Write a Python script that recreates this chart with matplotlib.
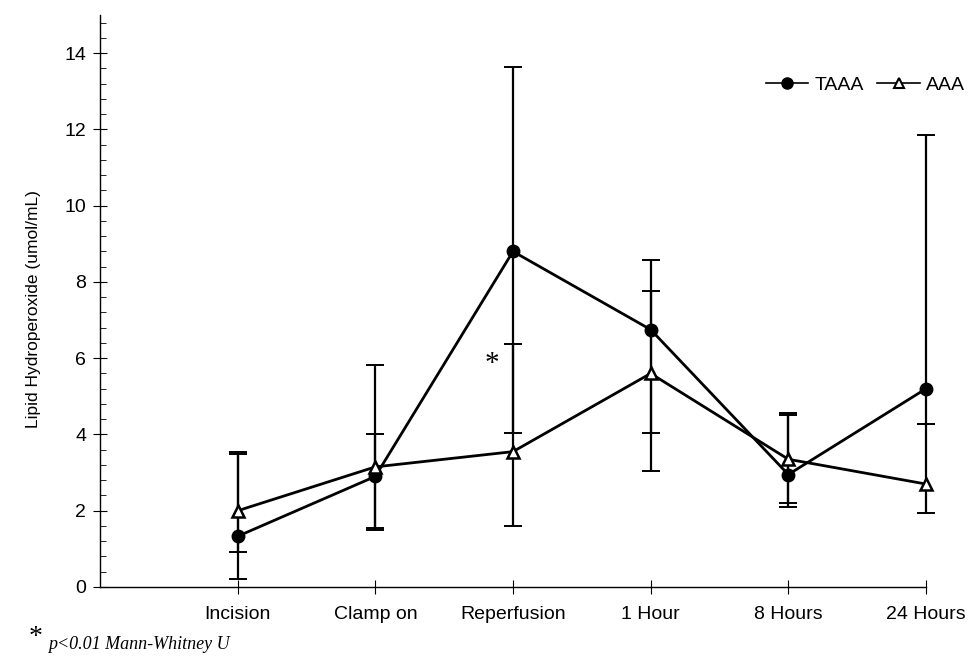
import numpy as np
import matplotlib.pyplot as plt
from matplotlib.lines import Line2D
from matplotlib.ticker import MultipleLocator

# data
times = ['Incision', 'Clamp on', 'Reperfusion', '1 Hour', '8 Hours', '24 Hours']
taaa = [1.33, 2.9, 8.8, 6.75, 2.95, 5.2]
taaa_hi = [3.55, 5.82, 13.65, 8.58, 4.5, 11.85]
taaa_lo = [0.21, 1.50, 4.03, 4.05, 2.10, 4.27]
aaa = [2.0, 3.15, 3.55, 5.6, 3.35, 2.7]
aaa_hi = [3.50, 4.02, 6.36, 7.75, 4.56, 4.27]
aaa_lo = [0.92, 1.55, 1.60, 3.05, 2.21, 1.95]

plt.rcParams['font.family'] = ['Liberation Sans', 'DejaVu Sans']

fig = plt.figure(figsize=(9.69, 6.62), dpi=100)
ax = fig.add_axes([0.1032, 0.1133, 0.8524, 0.864])

x = np.arange(1, len(times) + 1)
t = np.array(taaa)
a = np.array(aaa)

for yv, lo, hi in [(t, taaa_lo, taaa_hi), (a, aaa_lo, aaa_hi)]:
    eb = ax.errorbar(x, yv, yerr=[yv - np.array(lo), np.array(hi) - yv],
                     fmt='none', ecolor='black', elinewidth=1.6, capsize=6.5, capthick=1.4, zorder=2)
    for art in eb.lines[1] + eb.lines[2]:
        art.set_clip_on(False)
ax.plot(x, t, '-o', color='black', lw=2.0, ms=9, mfc='black', zorder=3, clip_on=False)
ax.plot(x, a, '-^', color='black', lw=2.0, ms=9, mfc='white', mew=1.8, zorder=4, clip_on=False)

ax.text(2.85, 5.86, '*', fontsize=21, family='Liberation Serif', ha='center', va='center')

ax.set_xlim(0, 6)
ax.set_ylim(0, 15)
ax.set_xticks(x)
ax.set_xticklabels(times, fontsize=14)
ax.set_yticks(np.arange(0, 15, 2))
ax.yaxis.set_minor_locator(MultipleLocator(0.4))
ax.tick_params(axis='y', which='major', direction='inout', length=10, width=0.8, labelsize=14, pad=5)
ax.tick_params(axis='y', which='minor', direction='in', length=4, width=0.6)
ax.tick_params(axis='x', which='major', direction='inout', length=10, width=0.8, pad=9)
for s in ['top', 'right']:
    ax.spines[s].set_visible(False)
ax.spines['left'].set_linewidth(1.0)
ax.spines['bottom'].set_linewidth(1.0)
ax.set_ylabel('Lipid Hydroperoxide (umol/mL)', fontsize=12.5)
ax.yaxis.set_label_coords(-0.072, 7.3 / 15)

handles = [Line2D([], [], color='black', lw=1.2, marker='o', ms=8, mfc='black'),
           Line2D([], [], color='black', lw=1.2, marker='^', ms=7, mfc='white', mew=1.5)]
fig.legend(handles, ['TAAA', 'AAA'], loc='center', bbox_to_anchor=(0.893, 0.872), ncol=2,
           frameon=False, fontsize=14, handlelength=2.2, handletextpad=0.3, columnspacing=0.7)

fig.text(0.030, 0.027, '*', fontsize=20, family='Liberation Serif', va='baseline')
fig.text(0.050, 0.02, 'p<0.01 Mann-Whitney U', fontsize=13, family='Liberation Serif',
         style='italic', va='baseline')

fig.savefig('out.png', dpi=100)
